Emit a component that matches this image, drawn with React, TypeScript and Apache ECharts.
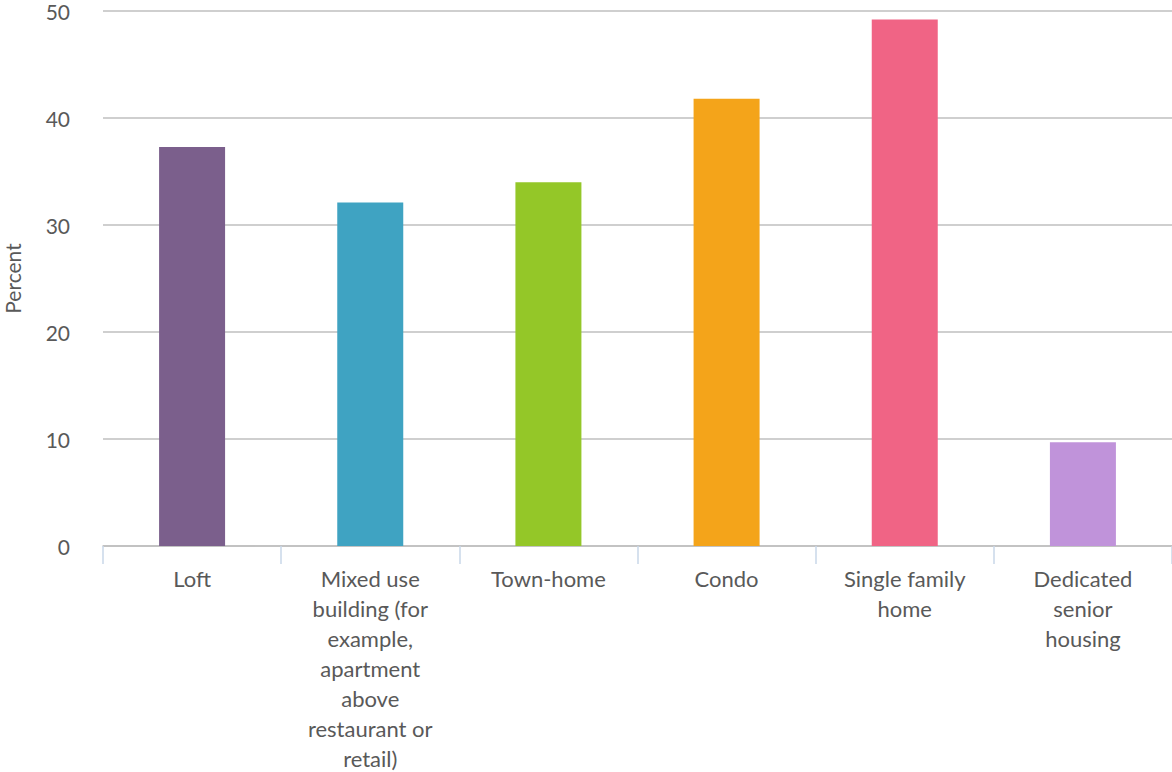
import React, { useEffect, useRef } from "react";
import * as echarts from "echarts";

const categories = [
  "Loft",
  "Mixed use\nbuilding (for\nexample,\napartment\nabove\nrestaurant or\nretail)",
  "Town-home",
  "Condo",
  "Single family\nhome",
  "Dedicated\nsenior\nhousing",
];
const values = [37.3, 32.1, 34.0, 41.8, 49.2, 9.7];
const barColors = ["#7b5f8c", "#3fa3c2", "#94c728", "#f4a41a", "#f06485", "#c093da"];
const yTicks = [0, 10, 20, 30, 40, 50];

export default function App() {
  const ref = useRef<HTMLDivElement>(null);
  useEffect(() => {
    const chart = echarts.init(ref.current!, null, { renderer: "svg" });
    chart.setOption({
      animation: false,
      backgroundColor: "#ffffff",
      grid: {
        left: 103,
        right: 0,
        top: 11,
        bottom: 226,
        containLabel: false,
        outerBoundsMode: "none",
      },
      xAxis: {
        type: "category",
        data: categories,
        axisLine: { lineStyle: { color: "#bfbfbf", width: 1.5 } },
        axisTick: { show: true, length: 18, lineStyle: { color: "#c9d7e8", width: 1.5 } },
        axisLabel: {
          interval: 0,
          color: "#595959",
          fontFamily: "Lato",
          fontSize: 22,
          lineHeight: 30,
          margin: 17,
        },
      },
      yAxis: {
        type: "value",
        min: 0,
        max: 50,
        interval: 10,
        name: "Percent",
        nameLocation: "middle",
        nameGap: 80,
        nameTextStyle: { color: "#595959", fontFamily: "Lato", fontSize: 21 },
        axisLine: { show: false },
        axisTick: { show: false },
        axisLabel: {
          color: "#595959",
          fontFamily: "Lato",
          fontSize: 21,
          margin: 33,
          formatter: (v: number) => (yTicks.includes(v) ? String(v) : ""),
        },
        splitLine: { lineStyle: { color: "#bfbfbf", width: 1.5 } },
      },
      series: [
        {
          type: "bar",
          data: values.map((v, i) => ({ value: v, itemStyle: { color: barColors[i] } })),
          barWidth: 66,
        },
      ],
    });
    return () => chart.dispose();
  }, []);
  return (
    <div
      ref={ref}
      style={{ position: "fixed", left: 0, top: 0, width: 1172, height: 772, background: "#fff" }}
    />
  );
}
